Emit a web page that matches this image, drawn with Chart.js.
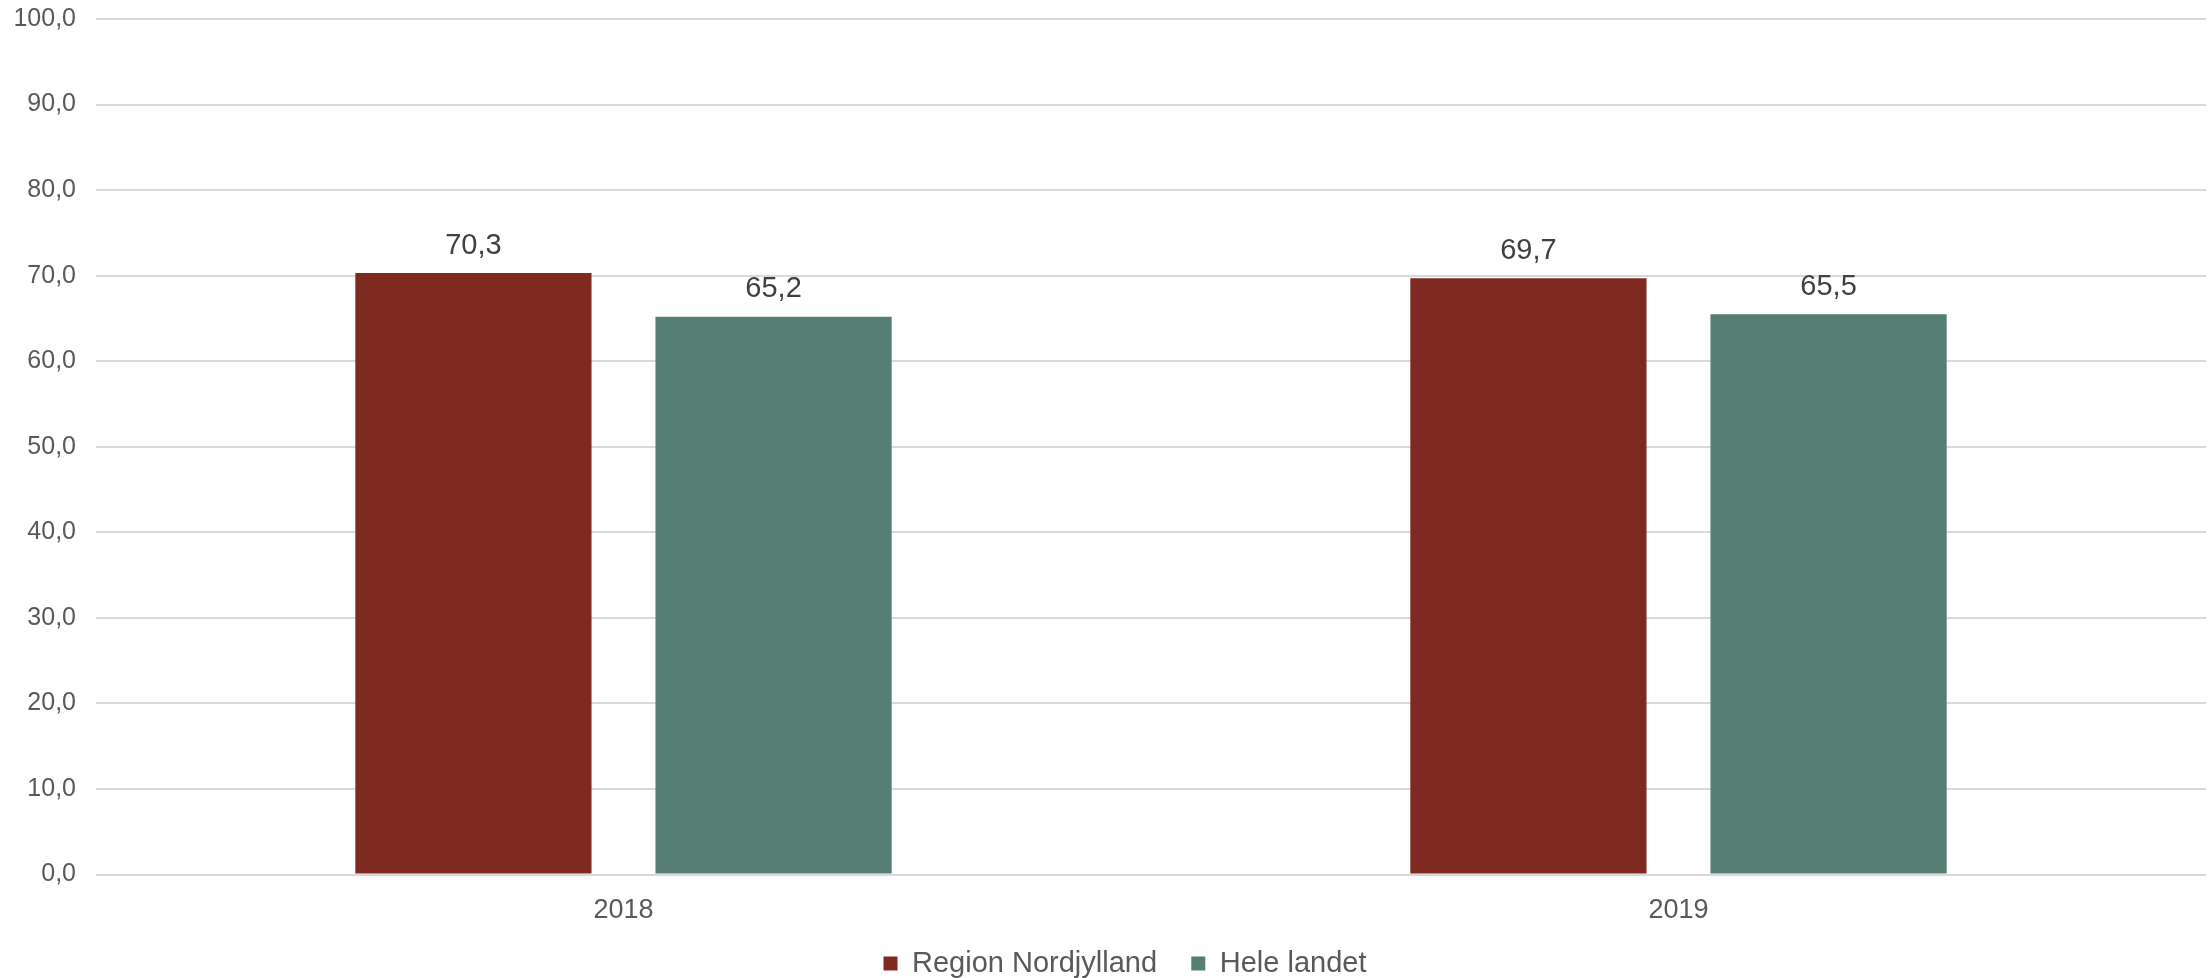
<!DOCTYPE html>
<html>
<head>
<meta charset="utf-8">
<script src="https://cdn.jsdelivr.net/npm/chart.js@4/dist/chart.umd.min.js"></script>
<style>
  html, body { margin: 0; padding: 0; background: #ffffff; }
  #wrap { width: 2210px; height: 978px; position: relative; }
</style>
</head>
<body>
<div id="wrap"><canvas id="c" width="2210" height="978"></canvas></div>
<script>
const categories = ["2018", "2019"];
const seriesNames = ["Region Nordjylland", "Hele landet"];
const regionValues = [70.3, 69.7];
const landetValues = [65.2, 65.5];
const yTicks = [0, 10, 20, 30, 40, 50, 60, 70, 80, 90, 100];

const fmt = v => Number(v).toFixed(1).replace('.', ',');
const FONT = "'Liberation Sans', Arial, sans-serif";

const valueLabels = {
  id: 'valueLabels',
  afterDatasetsDraw(chart) {
    const ctx = chart.ctx;
    ctx.save();
    ctx.font = "29px " + FONT;
    ctx.fillStyle = '#404040';
    ctx.textAlign = 'center';
    ctx.textBaseline = 'bottom';
    chart.data.datasets.forEach((ds, i) => {
      const meta = chart.getDatasetMeta(i);
      meta.data.forEach((bar, j) => {
        ctx.fillText(fmt(ds.data[j]), bar.x, bar.y - 13);
      });
    });
    ctx.restore();
  }
};

const legendShift = {
  id: 'legendShift',
  afterLayout(chart) {
    const lg = chart.legend;
    if (lg) { lg.left += 22; lg.right += 22; }
  }
};

new Chart(document.getElementById('c'), {
  type: 'bar',
  data: {
    labels: categories,
    datasets: [
      { label: seriesNames[0], data: regionValues, backgroundColor: '#7F2A21' },
      { label: seriesNames[1], data: landetValues, backgroundColor: '#557F74' }
    ]
  },
  options: {
    responsive: false,
    animation: false,
    devicePixelRatio: 1,
    categoryPercentage: 0.569,
    barPercentage: 0.787,
    layout: { padding: { top: 19, right: 4, left: 0, bottom: -10 } },
    plugins: {
      legend: {
        position: 'bottom',
        labels: {
          font: { size: 29, family: FONT },
          color: '#595959',
          boxWidth: 14,
          boxHeight: 14,
          padding: 2,
          generateLabels(chart) {
            const items = Chart.defaults.plugins.legend.labels.generateLabels(chart);
            items.forEach((it, i) => { if (i < items.length - 1) it.text = it.text + '    '; });
            return items;
          }
        }
      },
      tooltip: { enabled: false }
    },
    scales: {
      x: {
        grid: { display: false, drawTicks: false },
        border: { display: false },
        ticks: { font: { size: 27, family: FONT }, color: '#595959', padding: 20 }
      },
      y: {
        min: 0, max: 100,
        afterFit(scale) { scale.width = 96; scale.paddingTop = 0; scale.paddingBottom = 0; },
        afterBuildTicks(scale) { scale.ticks = yTicks.map(v => ({ value: v })); },
        grid: { color: '#D9D9D9', lineWidth: 2, drawTicks: false },
        border: { display: false },
        ticks: {
          font: { size: 25, family: FONT }, color: '#595959', padding: 20,
          callback: v => fmt(v)
        }
      }
    }
  },
  plugins: [valueLabels, legendShift]
});
</script>
</body>
</html>
